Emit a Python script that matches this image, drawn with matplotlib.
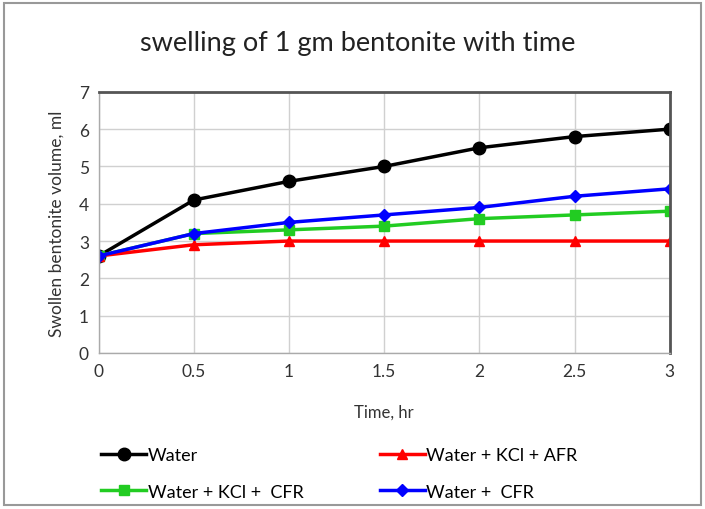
import matplotlib
matplotlib.use('Agg')
import matplotlib.pyplot as plt
from matplotlib.patches import Rectangle

plt.rcParams['font.family'] = ['Lato', 'DejaVu Sans']

# Data
time_hr = [0, 0.5, 1, 1.5, 2, 2.5, 3]
water = [2.6, 4.1, 4.6, 5.0, 5.5, 5.8, 6.0]
water_kcl_afr = [2.6, 2.9, 3.0, 3.0, 3.0, 3.0, 3.0]
water_kcl_cfr = [2.6, 3.2, 3.3, 3.4, 3.6, 3.7, 3.8]
water_cfr = [2.6, 3.2, 3.5, 3.7, 3.9, 4.2, 4.4]

fig = plt.figure(figsize=(7.05, 5.1), dpi=100)
ax = fig.add_axes([0.140, 0.306, 0.810, 0.512])

l1, = ax.plot(time_hr, water, '-o', color='black', lw=2.5, ms=9, label='Water')
l3, = ax.plot(time_hr, water_kcl_cfr, '-s', color='#22cc22', lw=2.5, ms=7, label='Water + KCl +  CFR')
l2, = ax.plot(time_hr, water_kcl_afr, '-^', color='red', lw=2.5, ms=7, label='Water + KCl + AFR')
l4, = ax.plot(time_hr, water_cfr, '-D', color='blue', lw=2.5, ms=6, label='Water +  CFR')

ax.set_xlim(0, 3)
ax.set_ylim(0, 7)
ax.set_xticks([0, 0.5, 1, 1.5, 2, 2.5, 3])
ax.set_xticklabels(['0', '0.5', '1', '1.5', '2', '2.5', '3'])
ax.set_yticks(range(0, 8))
ax.grid(True, color='#d0d0d0', lw=1)
ax.set_axisbelow(True)
ax.tick_params(labelsize=12.5, length=0, pad=7, colors='#333333')
for s in ['top', 'right']:
    ax.spines[s].set_color('#555555')
    ax.spines[s].set_linewidth(2)
for s in ['left', 'bottom']:
    ax.spines[s].set_color('#aaaaaa')
    ax.spines[s].set_linewidth(1)

ax.set_xlabel('Time, hr', fontsize=12, color='#333333', labelpad=18)
ax.set_ylabel('Swollen bentonite volume, ml', fontsize=12.5, color='#333333', labelpad=10)
fig.text(0.507, 0.914, 'swelling of 1 gm bentonite with time', fontsize=19.5,
         ha='center', va='center', color='#222222')

fig.legend(handles=[l1, l3, l2, l4], loc='upper left', ncol=2,
           bbox_to_anchor=(0.133, 0.136), frameon=False, fontsize=13,
           handlelength=2.5, handletextpad=0.1, columnspacing=4.2,
           labelspacing=1.15, borderaxespad=0)

fig.patches.append(Rectangle((0.006, 0.008), 0.988, 0.984, transform=fig.transFigure,
                             fill=False, edgecolor='#999999', lw=1.5))

fig.savefig('out.png', dpi=100)
